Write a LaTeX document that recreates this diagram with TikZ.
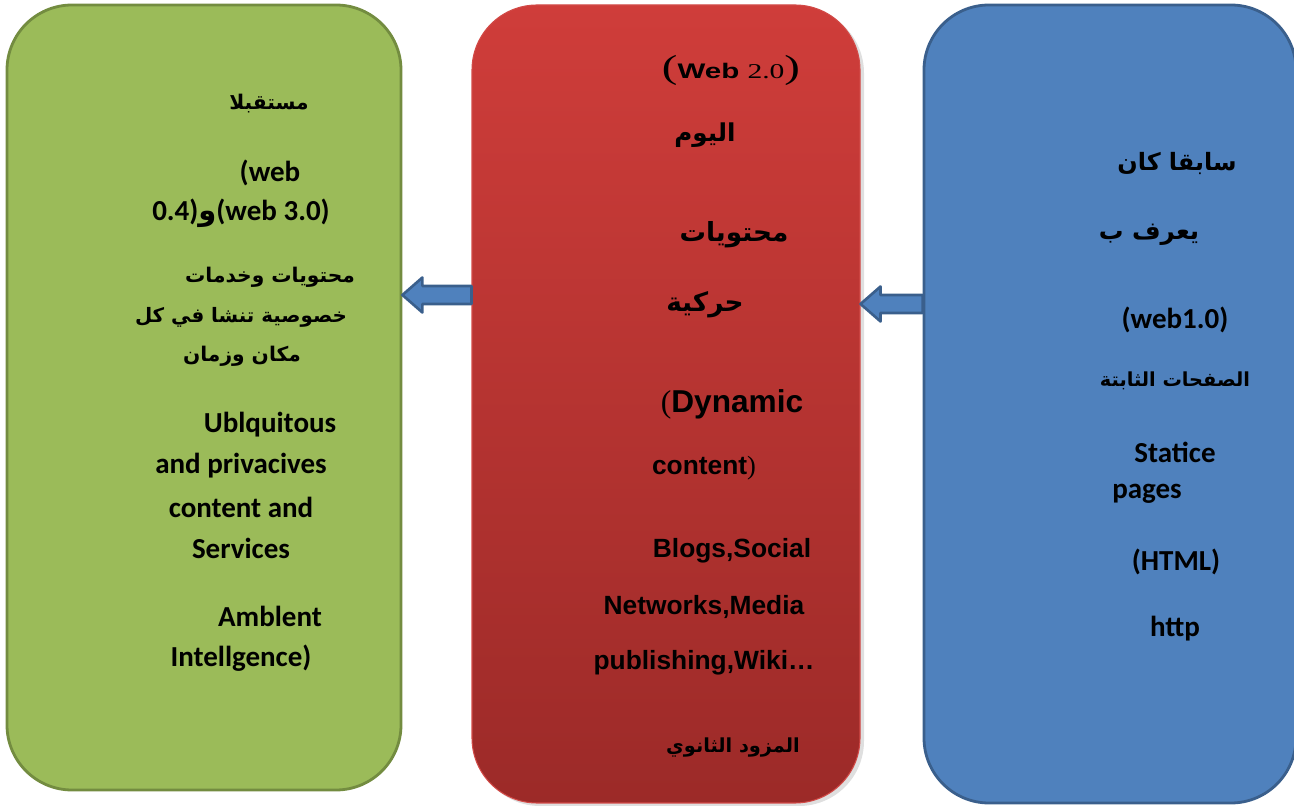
\documentclass[tikz,border=0pt]{standalone}
\usepackage{graphicx}
\usepackage{fontspec}
\setmainfont{Carlito}
\newfontfamily\arialfont{Liberation Sans}
\newfontfamily\timesfont{Liberation Serif}
\newfontfamily\arabicfont[Script=Arabic]{DejaVu Sans}
\TeXXeTstate=1
\usepackage{tikz}
\usetikzlibrary{calc}
\usepackage{xcolor}

\definecolor{greenfill}{HTML}{9BBB59}
\definecolor{greenline}{HTML}{738C40}
\definecolor{redtop}{HTML}{CF3D3A}
\definecolor{redbot}{HTML}{9C2A28}
\definecolor{redline}{HTML}{D24A47}
\definecolor{bluefill}{HTML}{4F81BD}
\definecolor{blueline}{HTML}{3A5F8C}

\tikzset{
	panel/.style={rectangle, rounded corners=1.3cm, line width=1.6pt, inner sep=0pt},
	lat/.style={font=\bfseries\fontsize{16.5}{19}\selectfont, inner sep=0pt},
	ari/.style={font=\arialfont\bfseries\fontsize{15}{18}\selectfont, inner sep=0pt},
	arb/.style={font=\arabicfont\bfseries\fontsize{#1}{16}\selectfont, inner sep=0pt},
	arb/.default=11.5,
	barrow/.style={fill=bluefill, draw=blueline, line width=1.5pt, line join=round}
}

% block arrow from tail #1 to tip #2 (pointing left)
\newcommand{\blockarrow}[2]{%
	\draw[barrow] let \p1=(#1), \p2=(#2) in
		(\x1,\y1+0.18cm) -- (\x2+0.4cm,\y1+0.18cm) -- (\x2+0.4cm,\y1+0.35cm)
		-- (\x2,\y1) -- (\x2+0.4cm,\y1-0.35cm) -- (\x2+0.4cm,\y1-0.18cm)
		-- (\x1,\y1-0.18cm) -- cycle;}

\begin{document}
\begin{tikzpicture}
	\useasboundingbox (0,0) rectangle (25.88,16.16);

	\node[panel, fill=greenfill, draw=greenline, minimum width=7.88cm,
		minimum height=15.7cm] (green) at (4.08,8.21) {};
	\fill[gray!25, rounded corners=1.3cm] (9.5,0.04) rectangle (17.28,16.0);
	\node[panel, top color=redtop, bottom color=redbot, draw=redline,
		line width=0.6pt, minimum width=7.76cm, minimum height=15.96cm]
		(red) at (13.32,8.08) {};
	\node[panel, fill=bluefill, draw=blueline, minimum width=7.44cm,
		minimum height=15.96cm] (blue) at (22.2,8.08) {};

	\coordinate (a1) at (red.west |- 0,10.26);
	\coordinate (a2) at (green.east |- 0,10.26);
	\coordinate (b1) at (blue.west |- 0,10.08);
	\coordinate (b2) at (red.east |- 0,10.08);
	\blockarrow{a1}{a2}
	\blockarrow{b1}{b2}

	% green panel
	\node[arb] (g1) at (5.38,14.08) {\beginR مستقبلا\endR};
	\node[lat] (g2) at (5.40,12.70) {(web};
	\node[lat] (g3) at (4.82,11.90) {0.4){\arabicfont و}(web 3.0)};
	\node[arb] (g4) at (5.40,10.62) {\beginR محتويات وخدمات\endR};
	\node[arb=11.3] (g5) at (4.82,9.82) {\beginR خصوصية تنشا في كل\endR};
	\node[arb] (g6) at (4.84,9.04) {\beginR مكان وزمان\endR};
	\node[lat] (g7) at (5.40,7.66) {Ublquitous};
	\node[lat] (g8) at (4.82,6.84) {and privacives};
	\node[lat] (g9) at (4.82,6.02) {content and};
	\node[lat] (g10) at (4.82,5.20) {Services};
	\node[lat] (g11) at (5.40,3.84) {Amblent};
	\node[lat] (g12) at (4.82,3.00) {Intellgence)};

	% red panel
	\node[ari, font=\arialfont\bfseries\fontsize{12}{14}\selectfont] (r1) at (14.62,14.76)
		{\scalebox{1.4}[1]{{\timesfont\mdseries\fontsize{19}{19}\selectfont(}Web
		{\timesfont\mdseries 2.0}{\timesfont\mdseries\fontsize{19}{19}\selectfont)}}};
	\node[arb=14] (r2) at (14.10,13.46) {\beginR اليوم\endR};
	\node[arb=15] (r3) at (14.68,11.46) {\beginR محتويات\endR};
	\node[arb=15] (r4) at (14.10,10.06) {\beginR حركية\endR};
	\node[ari, font=\arialfont\bfseries\fontsize{18}{20}\selectfont] (r5) at (14.64,8.08)
		{{\timesfont\mdseries(}Dynamic};
	\node[ari] (r6) at (14.08,6.80) {content{\timesfont\mdseries)}};
	\node[ari] (r7) at (14.64,5.14) {Blogs,Social};
	\node[ari] (r8) at (14.08,4.02) {Networks,Media};
	\node[ari] (r9) at (14.08,2.90) {publishing,Wiki…};
	\node[arb=11] (r10) at (14.66,1.20) {\beginR المزود الثانوي\endR};

	% blue panel
	\node[arb=13.6] (c1) at (23.54,12.90) {\beginR سابقا كان\endR};
	\node[arb=14] (c2) at (22.98,11.46) {\beginR يعرف ب\endR};
	\node[lat] (c3) at (23.50,9.76) {(web1.0)};
	\node[arb=11] (c4) at (23.50,8.54) {\beginR الصفحات الثابتة\endR};
	\node[lat] (c5) at (23.50,7.12) {Statice};
	\node[lat] (c6) at (22.94,6.28) {pages};
	\node[lat] (c7) at (23.52,4.92) {(HTML)};
	\node[lat] (c8) at (23.50,3.58) {http};
\end{tikzpicture}
\end{document}
